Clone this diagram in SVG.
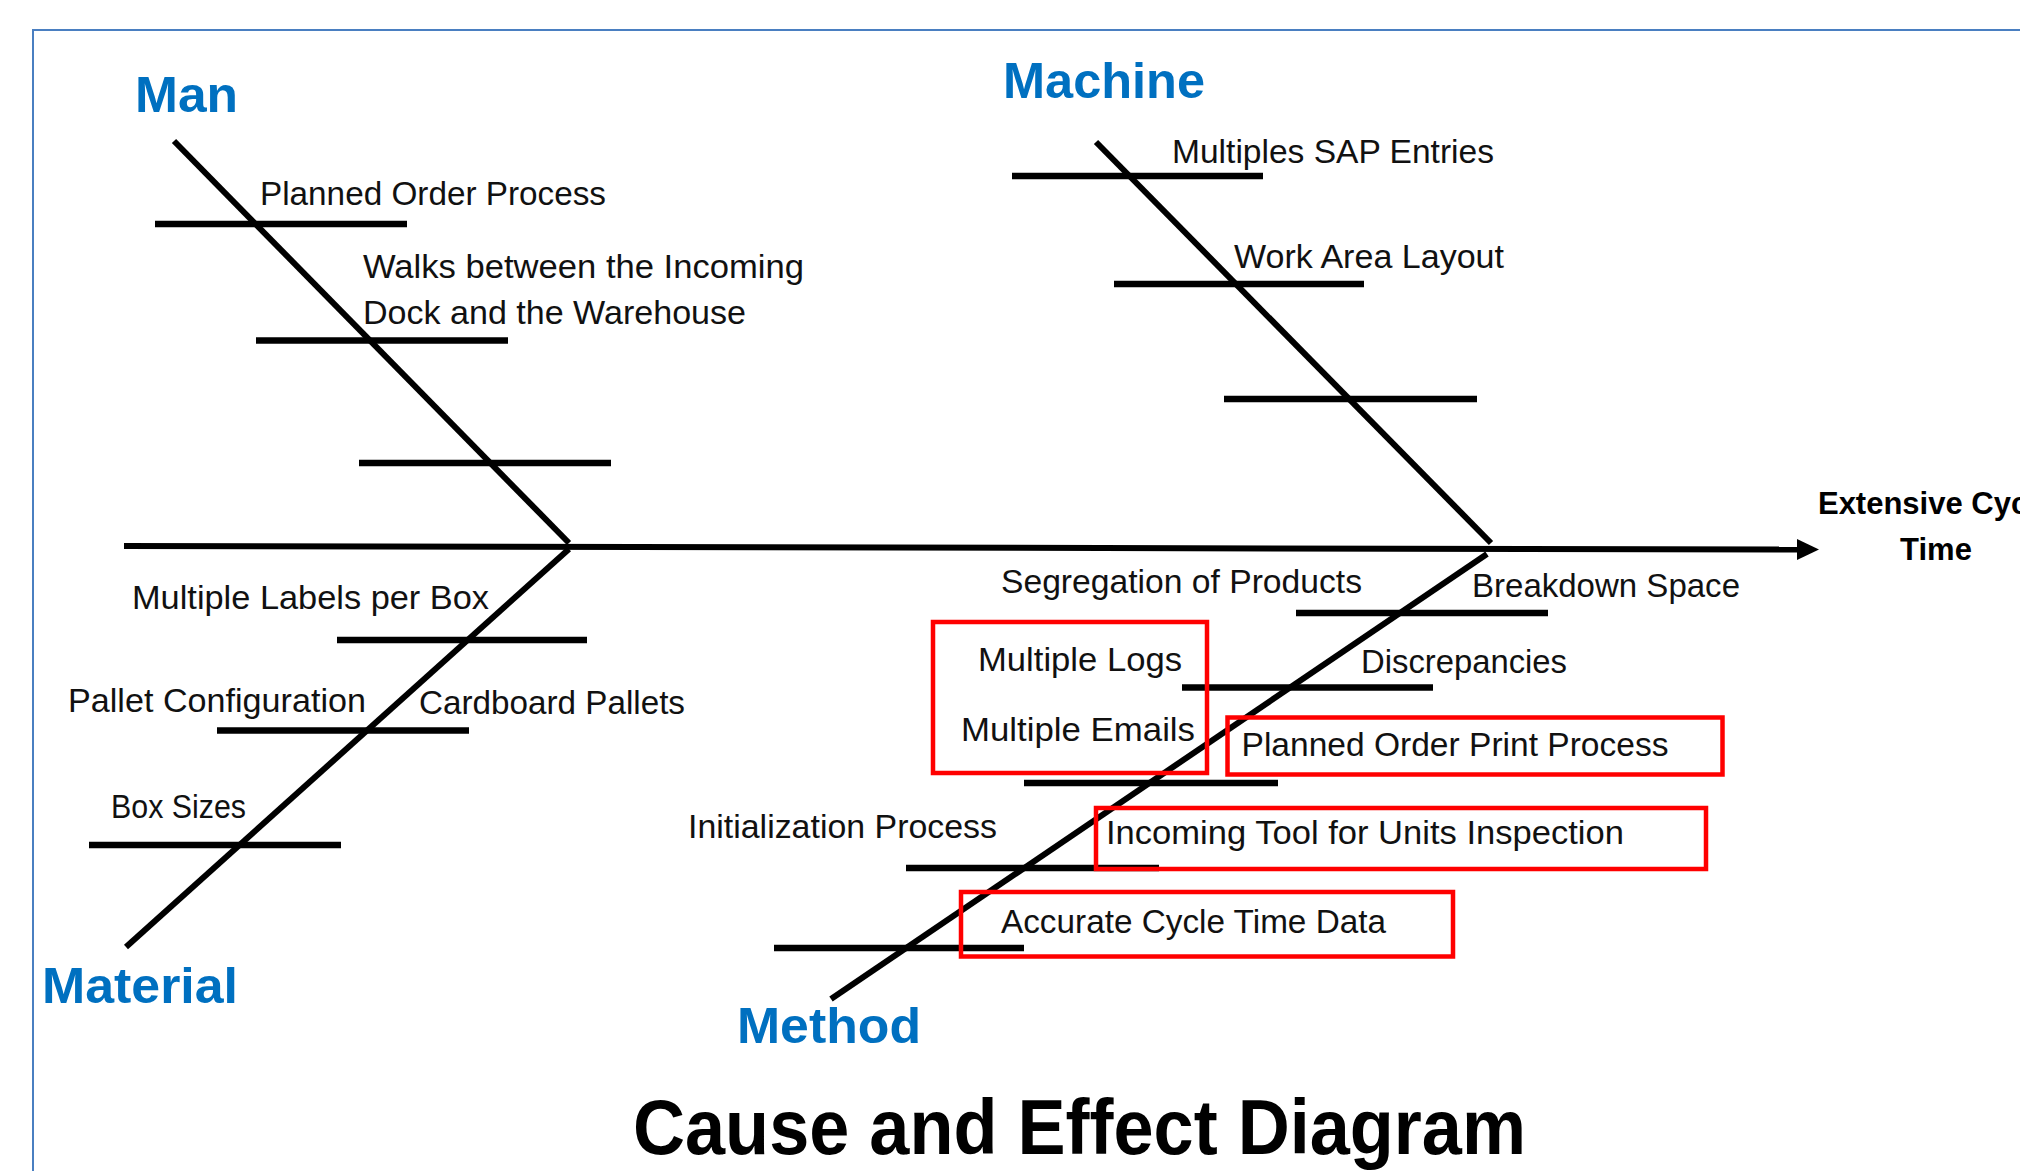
<svg xmlns="http://www.w3.org/2000/svg" width="2020" height="1171" viewBox="0 0 2020 1171">
<style>
.frame{fill:none;stroke:#4a7fc1;stroke-width:2}
.bone{stroke:#000;stroke-width:6;fill:none;stroke-linecap:butt}
.rib{stroke:#000;stroke-width:6.5;fill:none}
.lbl{font-family:"Liberation Sans",Arial,sans-serif;font-size:33px;fill:#111}
.cat{font-family:"Liberation Sans",Arial,sans-serif;font-size:50px;font-weight:bold;fill:#0070C0}
.eff{font-family:"Liberation Sans",Arial,sans-serif;font-size:31px;font-weight:bold;fill:#000;text-anchor:middle}
.ttl{font-family:"Liberation Sans",Arial,sans-serif;font-size:77px;font-weight:bold;fill:#000}
.hl{fill:none;stroke:#ff0000;stroke-width:4.5}
</style>
<defs>
<marker id="arrow" markerUnits="userSpaceOnUse" markerWidth="24" markerHeight="22" refX="1" refY="10.5" orient="auto">
<path d="M0,0 L22,10.5 L0,21 Z" fill="#000"/>
</marker>
</defs>
<rect width="2020" height="1171" fill="#fff"/>
<rect class="frame" x="33" y="30" width="2100" height="1200"/>

<g id="connectors">
<line class="bone" x1="124" y1="546" x2="1798" y2="549.5" marker-end="url(#arrow)"/>
<line class="bone" x1="174" y1="141" x2="569" y2="543"/>
<line class="bone" x1="1096" y1="142" x2="1491" y2="543"/>
<line class="bone" x1="569" y1="549" x2="126" y2="947"/>
<line class="bone" x1="1487" y1="554" x2="831" y2="999"/>
</g>

<g id="effect">
<text class="eff" x="1936" y="514">Extensive Cycle</text>
<text class="eff" x="1936" y="560">Time</text>
</g>

<g id="man">
<text class="cat" x="135" y="112" textLength="103" lengthAdjust="spacingAndGlyphs">Man</text>
<line class="rib" x1="155" y1="224" x2="407" y2="224"/>
<line class="rib" x1="256" y1="340.5" x2="508" y2="340.5"/>
<line class="rib" x1="359" y1="463" x2="611" y2="463"/>
</g>
<g id="man-planned-order-process"><text class="lbl" x="260" y="205" textLength="346" lengthAdjust="spacingAndGlyphs">Planned Order Process</text></g>
<g id="man-walks">
<text class="lbl" x="363" y="277.5" textLength="441" lengthAdjust="spacingAndGlyphs">Walks between the Incoming</text>
<text class="lbl" x="363" y="323.5" textLength="383" lengthAdjust="spacingAndGlyphs">Dock and the Warehouse</text>
</g>

<g id="machine">
<text class="cat" x="1003" y="98" textLength="202" lengthAdjust="spacingAndGlyphs">Machine</text>
<line class="rib" x1="1012" y1="176" x2="1263" y2="176"/>
<line class="rib" x1="1114" y1="284" x2="1364" y2="284"/>
<line class="rib" x1="1224" y1="399" x2="1477" y2="399"/>
</g>
<g id="machine-sap"><text class="lbl" x="1172" y="163" textLength="322" lengthAdjust="spacingAndGlyphs">Multiples SAP Entries</text></g>
<g id="machine-layout"><text class="lbl" x="1234" y="268" textLength="270" lengthAdjust="spacingAndGlyphs">Work Area Layout</text></g>

<g id="material">
<text class="cat" x="42" y="1003" textLength="196" lengthAdjust="spacingAndGlyphs">Material</text>
<line class="rib" x1="337" y1="640" x2="587" y2="640"/>
<line class="rib" x1="217" y1="730.5" x2="469" y2="730.5"/>
<line class="rib" x1="89" y1="845" x2="341" y2="845"/>
</g>
<g id="material-labels"><text class="lbl" x="132" y="609" textLength="357" lengthAdjust="spacingAndGlyphs">Multiple Labels per Box</text></g>
<g id="material-pallet-config"><text class="lbl" x="68" y="712" textLength="298" lengthAdjust="spacingAndGlyphs">Pallet Configuration</text></g>
<g id="material-cardboard"><text class="lbl" x="419" y="714" textLength="266" lengthAdjust="spacingAndGlyphs">Cardboard Pallets</text></g>
<g id="material-box-sizes"><text class="lbl" x="111" y="818" textLength="135" lengthAdjust="spacingAndGlyphs">Box Sizes</text></g>

<g id="method">
<text class="cat" x="737" y="1043" textLength="184" lengthAdjust="spacingAndGlyphs">Method</text>
<line class="rib" x1="1296" y1="613" x2="1548" y2="613"/>
<line class="rib" x1="1182" y1="687.5" x2="1433" y2="687.5"/>
<line class="rib" x1="1024" y1="783" x2="1278" y2="783"/>
<line class="rib" x1="906" y1="868" x2="1159" y2="868"/>
<line class="rib" x1="774" y1="948" x2="1024" y2="948"/>
</g>
<g id="method-segregation"><text class="lbl" x="1001" y="592.5" textLength="361" lengthAdjust="spacingAndGlyphs">Segregation of Products</text></g>
<g id="method-breakdown"><text class="lbl" x="1472" y="596.5" textLength="268" lengthAdjust="spacingAndGlyphs">Breakdown Space</text></g>
<g id="method-logs-emails">
<rect class="hl" x="933" y="622" width="274" height="151"/>
<text class="lbl" x="978" y="671" textLength="204" lengthAdjust="spacingAndGlyphs">Multiple Logs</text>
<text class="lbl" x="961" y="741" textLength="234" lengthAdjust="spacingAndGlyphs">Multiple Emails</text>
</g>
<g id="method-discrepancies"><text class="lbl" x="1361" y="673" textLength="206" lengthAdjust="spacingAndGlyphs">Discrepancies</text></g>
<g id="method-print">
<rect class="hl" x="1227.5" y="717.5" width="495" height="57"/>
<text class="lbl" x="1241.5" y="755.5" textLength="427" lengthAdjust="spacingAndGlyphs">Planned Order Print Process</text>
</g>
<g id="method-init"><text class="lbl" x="688" y="838" textLength="309" lengthAdjust="spacingAndGlyphs">Initialization Process</text></g>
<g id="method-incoming">
<rect class="hl" x="1096" y="808" width="610" height="61"/>
<text class="lbl" x="1106" y="844" textLength="518" lengthAdjust="spacingAndGlyphs">Incoming Tool for Units Inspection</text>
</g>
<g id="method-accurate">
<rect class="hl" x="961" y="892" width="492" height="64.5"/>
<text class="lbl" x="1001" y="932.5" textLength="385" lengthAdjust="spacingAndGlyphs">Accurate Cycle Time Data</text>
</g>

<g id="title"><text class="ttl" x="633" y="1154" textLength="893" lengthAdjust="spacingAndGlyphs">Cause and Effect Diagram</text></g>
</svg>
